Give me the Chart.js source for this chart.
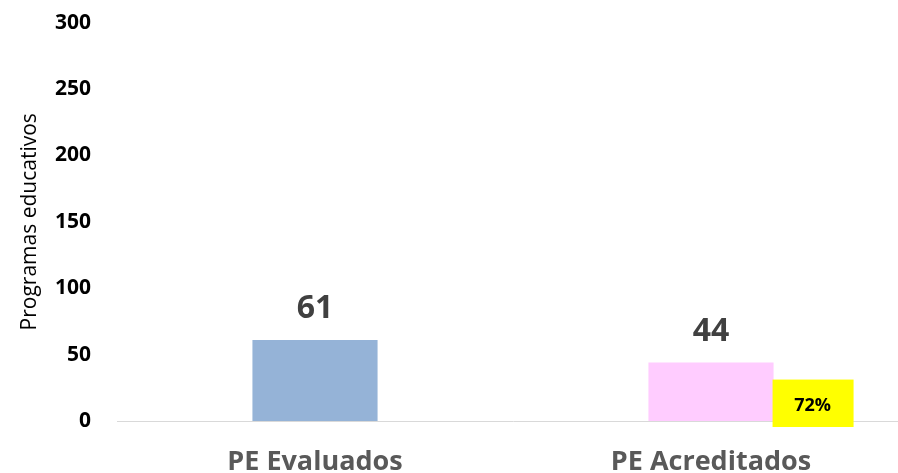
<!DOCTYPE html>
<html>
<head>
<meta charset="utf-8">
<script src="https://cdn.jsdelivr.net/npm/chart.js@4"></script>
<style>
  html, body { margin: 0; padding: 0; background: #fff; overflow: hidden; }
  #wrap { width: 909px; height: 489px; margin-top: -16px; }
</style>
</head>
<body>
<div id="wrap"><canvas id="myChart"></canvas></div>
<script>
const categories = ['PE Evaluados', 'PE Acreditados'];
const values = [61, 44];
const barColors = ['#95B3D7', '#FFCCFF'];
const percentLabel = '72%';
const yTicks = [0, 50, 100, 150, 200, 250, 300];

const fontFamily = '"Open Sans", sans-serif';

// value labels above bars + yellow percentage box
const labelsPlugin = {
    id: 'labels',
    afterDatasetsDraw(chart) {
        const c = chart.ctx;
        const meta = chart.getDatasetMeta(0);
        c.save();
        c.textAlign = 'center';
        c.textBaseline = 'alphabetic';
        c.font = 'bold 32px ' + fontFamily;
        c.fillStyle = '#404040';
        meta.data.forEach((bar, i) => {
            c.fillText(values[i], bar.x, bar.y - 22);
        });
        const last = meta.data[meta.data.length - 1];
        const bx = last.x + last.width / 2 - 1;
        const by = last.y + 17;
        const bottom = chart.scales.y.getPixelForValue(0) + 6;
        c.fillStyle = '#FFFF00';
        c.fillRect(bx, by, 81, bottom - by);
        c.fillStyle = '#000';
        c.font = 'bold 18px ' + fontFamily;
        c.fillText(percentLabel, bx + 40, bottom - 16);
        c.restore();
    }
};

new Chart(document.getElementById('myChart'), {
    type: 'bar',
    data: {
        labels: categories,
        datasets: [{
            data: values,
            backgroundColor: barColors,
            barPercentage: 0.316,
            categoryPercentage: 1
        }]
    },
    options: {
        responsive: true,
        maintainAspectRatio: false,
        animation: false,
        layout: { padding: { top: 0, right: 0, left: 17, bottom: 0 } },
        plugins: {
            legend: { display: false },
            tooltip: { enabled: false }
        },
        scales: {
            x: {
                afterFit: (scale) => { scale.height = 52; },
                grid: { display: false, drawTicks: false },
                border: { color: '#d9d9d9', width: 1 },
                ticks: { color: '#595959', font: { size: 27, weight: 'bold', family: fontFamily }, padding: 25 }
            },
            y: {
                min: 0,
                max: 300,
                afterBuildTicks: (axis) => { axis.ticks = yTicks.map(v => ({ value: v })); },
                afterFit: (scale) => { scale.width = 100; },
                grid: { display: false, drawTicks: false },
                border: { display: false },
                ticks: { color: '#000', font: { size: 21, weight: 'bold', family: fontFamily }, padding: 26 },
                title: {
                    display: true,
                    text: 'Programas educativos',
                    color: '#000',
                    font: { size: 21, family: fontFamily },
                    padding: { top: 0, bottom: 9 }
                }
            }
        }
    },
    plugins: [labelsPlugin]
});
</script>
</body>
</html>
